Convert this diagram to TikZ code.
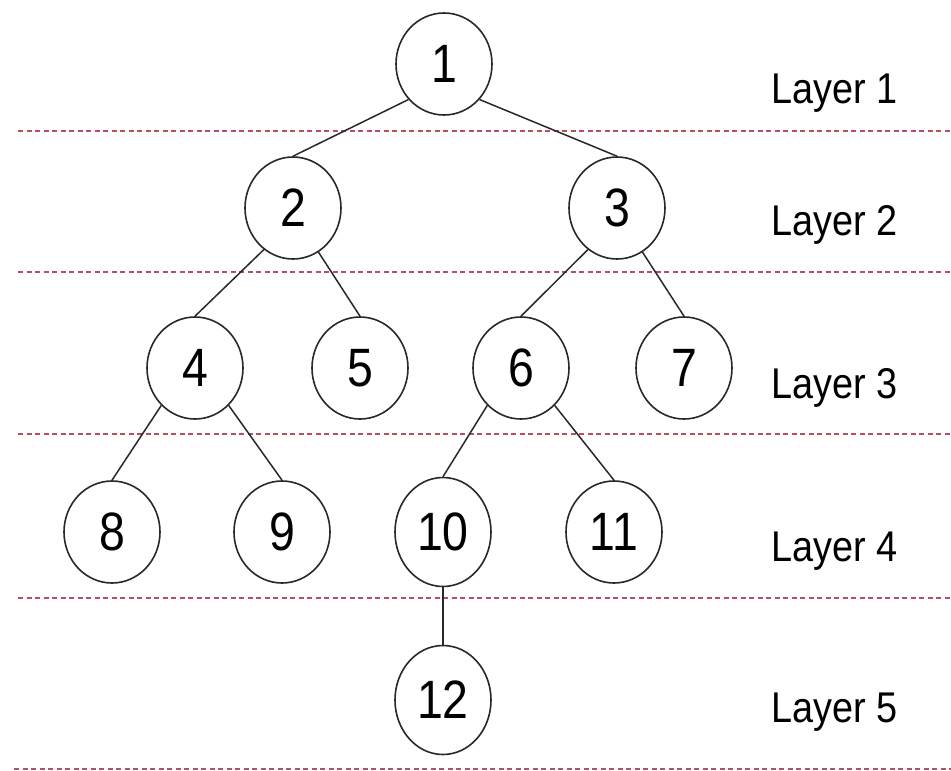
\documentclass[tikz,border=0pt]{standalone}
\usepackage{fontspec}
\setmainfont{Liberation Sans}
\newfontfamily\numfont[FakeStretch=0.86]{Liberation Sans}
\newfontfamily\labfont[FakeStretch=0.88]{Liberation Sans}
\usetikzlibrary{shapes.geometric}
\definecolor{sepred}{RGB}{180,80,95}
\definecolor{edgegray}{RGB}{40,40,40}
\tikzset{
  tnode/.style={ellipse, draw=edgegray, line width=1.6pt, fill=white,
    minimum width=96pt, minimum height=102pt, inner sep=0pt,
    font=\numfont\fontsize{54}{54}\selectfont},
  tall/.style={minimum height=109pt},
  tedge/.style={draw=edgegray, line width=1.5pt},
  sepline/.style={draw=sepred, line width=1.6pt, dash pattern=on 5pt off 3.5pt},
  laylabel/.style={anchor=base west, inner sep=0pt, font=\labfont\fontsize{43}{43}\selectfont}
}
\begin{document}
\begin{tikzpicture}[x=1pt,y=-1pt]
\useasboundingbox (0,0) rectangle (951,771);
% separators
\coordinate (s1a) at (18,131); \coordinate (s1b) at (951,131);
\coordinate (s2a) at (18,272); \coordinate (s2b) at (951,272);
\coordinate (s3a) at (18,434); \coordinate (s3b) at (951,434);
\coordinate (s4a) at (18,598); \coordinate (s4b) at (951,598);
\coordinate (s5a) at (14,769); \coordinate (s5b) at (951,769);
\draw[sepline] (s1a) -- (s1b);
\draw[sepline] (s2a) -- (s2b);
\draw[sepline] (s3a) -- (s3b);
\draw[sepline] (s4a) -- (s4b);
\draw[sepline] (s5a) -- (s5b);
% nodes
\node[tnode] (n1) at (444,64) {1};
\node[tnode] (n2) at (293,208) {2};
\node[tnode] (n3) at (617,208) {3};
\node[tnode] (n4) at (195,368) {4};
\node[tnode] (n5) at (360,368) {5};
\node[tnode] (n6) at (521,368) {6};
\node[tnode] (n7) at (684,368) {7};
\node[tnode] (n8) at (112,532) {8};
\node[tnode] (n9) at (282,532) {9};
\node[tnode,tall] (n10) at (443,532) {10};
\node[tnode] (n11) at (614,532) {11};
\node[tnode,tall] (n12) at (443,700) {12};
% edges
\draw[tedge] (n1.225) -- (n2.north);
\draw[tedge] (n1.315) -- (n3.north);
\draw[tedge] (n2.235) -- (n4.north);
\draw[tedge] (n2.300) -- (n5.north);
\draw[tedge] (n3.235) -- (n6.north);
\draw[tedge] (n3.300) -- (n7.north);
\draw[tedge] (n4.228) -- (n8.north);
\draw[tedge] (n4.312) -- (n9.north);
\draw[tedge] (n6.228) -- (n10.north);
\draw[tedge] (n6.312) -- (n11.north);
\draw[tedge] (n10) -- (n12);
% labels
\node[laylabel] (l1) at (771,103) {Layer 1};
\node[laylabel] (l2) at (771,235) {Layer 2};
\node[laylabel] (l3) at (771,398) {Layer 3};
\node[laylabel] (l4) at (771,561) {Layer 4};
\node[laylabel] (l5) at (771,722) {Layer 5};
\end{tikzpicture}
\end{document}
